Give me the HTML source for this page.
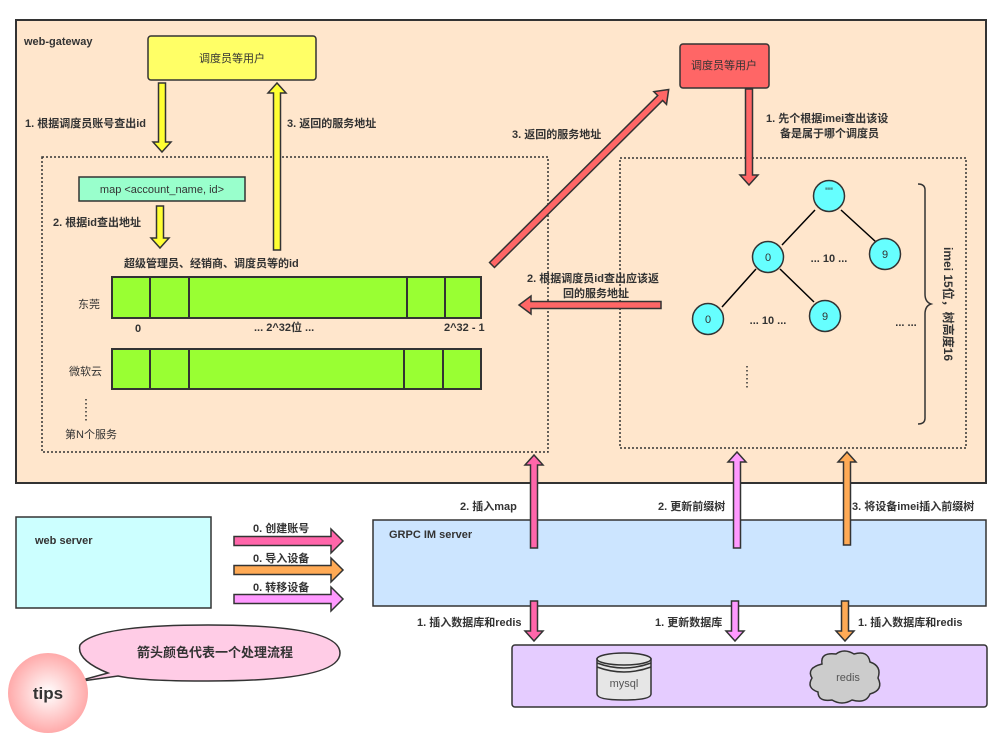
<!DOCTYPE html>
<html><head><meta charset="utf-8"><style>
body{margin:0;background:#fff}
svg{display:block;font-family:"Liberation Sans","Noto Sans CJK SC",sans-serif}
.t{font-size:11px;fill:#333;font-weight:bold}
.n{font-size:11px;fill:#333}
</style></head><body>
<svg width="1001" height="737" viewBox="0 0 1001 737" xmlns="http://www.w3.org/2000/svg">
<defs>
<radialGradient id="rg" cx="50%" cy="50%" r="50%"><stop offset="0" stop-color="#fff"/><stop offset="1" stop-color="#ffaaaa"/></radialGradient>
</defs>
<rect x="16" y="20" width="970" height="463" fill="#ffe6cc" stroke="#333" stroke-width="2"/>
<text x="24" y="45" class="t">web-gateway</text>
<rect x="148" y="36" width="168" height="44" rx="3" fill="#ffff66" stroke="#333" stroke-width="1.5"/>
<text x="232" y="62" class="n" text-anchor="middle">调度员等用户</text>
<rect x="42" y="157" width="506" height="295" fill="none" stroke="#333" stroke-dasharray="2,2" stroke-width="1.5"/>
<rect x="620" y="158" width="346" height="290" fill="none" stroke="#333" stroke-dasharray="2,2" stroke-width="1.5"/>
<g stroke="#333" stroke-width="1.5">
<polygon fill="#ffff33" points="158.5,83 165.5,83 165.5,142 171,142 162,152 153,142 158.5,142"/>
<polygon fill="#ffff33" points="273.5,250 280.5,250 280.5,93 286,93 277,83 268,93 273.5,93"/>
<polygon fill="#ffff33" points="156.5,206 163.5,206 163.5,238 169,238 160,248 151,238 156.5,238"/>
<polygon fill="#ff6666" points="745.5,89 752.5,89 752.5,175 758,175 749,185 740,175 745.5,175"/>
<polygon fill="#ff6666" points="661,301.5 661,308.5 531,308.5 531,314 519,305 531,296 531,301.5"/>
<polygon fill="#ff6666" transform="translate(492,265) rotate(-44.8)" points="0,-3.5 237,-3.5 237,-9 249,0 237,9 237,3.5 0,3.5"/>
</g>
<rect x="79" y="177" width="166" height="24" fill="#99ffcc" stroke="#333" stroke-width="1.5"/>
<text x="162" y="193" class="n" text-anchor="middle">map  &lt;account_name, id&gt;</text>
<text x="25" y="127" class="t">1. 根据调度员账号查出id</text>
<text x="287" y="127" class="t">3. 返回的服务地址</text>
<text x="53" y="226" class="t">2. 根据id查出地址</text>
<text x="512" y="138" class="t">3. 返回的服务地址</text>
<text x="124" y="267" class="t">超级管理员、经销商、调度员等的id</text>
<g fill="#99ff33" stroke="#333" stroke-width="2">
<rect x="112" y="277" width="369" height="41"/>
<rect x="112" y="349" width="369" height="40"/>
<path d="M150 277v41M189 277v41M407 277v41M445 277v41M150 349v40M189 349v40M404 349v40M443 349v40" fill="none"/>
</g>
<text x="78" y="308" class="n">东莞</text>
<text x="135" y="332" class="t">0</text>
<text x="254" y="331" class="t">... 2^32位 ...</text>
<text x="444" y="331" class="t">2^32 - 1</text>
<text x="69" y="375" class="n">微软云</text>
<path d="M86 399v22" stroke="#333" stroke-dasharray="1.5,2.5" stroke-width="1.5"/>
<text x="65" y="438" class="n">第N个服务</text>
<text x="527" y="282" class="t">2. 根据调度员id查出应该返</text>
<text x="563" y="297" class="t">回的服务地址</text>
<rect x="680" y="44" width="89" height="44" rx="3" fill="#ff6666" stroke="#333" stroke-width="1.5"/>
<text x="724" y="69" class="n" text-anchor="middle">调度员等用户</text>
<text x="766" y="122" class="t">1. 先个根据imei查出该设</text>
<text x="780" y="137" class="t">备是属于哪个调度员</text>
<g stroke="#000" stroke-width="1.5">
<path d="M815 210L782 245M841 210L876 242M756 269L722 307M780 269L814 302"/>
</g>
<g fill="#66ffff" stroke="#333" stroke-width="1.5">
<circle cx="829" cy="196" r="15.5"/>
<circle cx="768" cy="257" r="15.5"/>
<circle cx="885" cy="254" r="15.5"/>
<circle cx="708" cy="319" r="15.5"/>
<circle cx="825" cy="316" r="15.5"/>
</g>
<text x="829" y="195" class="n" text-anchor="middle">""</text>
<text x="768" y="261" class="n" text-anchor="middle">0</text>
<text x="885" y="258" class="n" text-anchor="middle">9</text>
<text x="708" y="323" class="n" text-anchor="middle">0</text>
<text x="825" y="320" class="n" text-anchor="middle">9</text>
<text x="829" y="262" class="t" text-anchor="middle">... 10 ...</text>
<text x="768" y="324" class="t" text-anchor="middle">... 10 ...</text>
<text x="906" y="326" class="t" text-anchor="middle">... ...</text>
<path d="M747 366v24" stroke="#333" stroke-dasharray="1.5,2.5" stroke-width="1.5"/>
<path d="M918 184q7 0 7 6v104q0 8 6 10q-6 2 -6 10v104q0 6 -7 6" fill="none" stroke="#333" stroke-width="1.5"/>
<text transform="translate(944,304) rotate(90)" class="t" text-anchor="middle" style="font-size:12px">imei 15位，树高度16</text>
<rect x="16" y="517" width="195" height="91" fill="#ccffff" stroke="#333" stroke-width="1.5"/>
<text x="35" y="544" class="t">web server</text>
<rect x="373" y="520" width="613" height="86" fill="#cce5ff" stroke="#333" stroke-width="1.5"/>
<text x="389" y="538" class="t">GRPC IM server</text>
<rect x="512" y="645" width="475" height="62" rx="3" fill="#e5ccff" stroke="#333" stroke-width="1.5"/>
<g stroke="#333" stroke-width="1.5">
<polygon fill="#ff66aa" points="530.5,548 537.5,548 537.5,465 543,465 534,455 525,465 530.5,465"/>
<polygon fill="#ff99ff" points="733.5,548 740.5,548 740.5,462 746,462 737,452 728,462 733.5,462"/>
<polygon fill="#ffaa55" points="843.5,545 850.5,545 850.5,462 856,462 847,452 838,462 843.5,462"/>
<polygon fill="#ff66aa" points="530.5,601 537.5,601 537.5,631 543,631 534,641 525,631 530.5,631"/>
<polygon fill="#ff99ff" points="731.5,601 738.5,601 738.5,631 744,631 735,641 726,631 731.5,631"/>
<polygon fill="#ffaa55" points="841.5,601 848.5,601 848.5,631 854,631 845,641 836,631 841.5,631"/>
<polygon fill="#ff66aa" points="234,536.5 331,536.5 331,529 343,541 331,553 331,545.5 234,545.5"/>
<polygon fill="#ffaa55" points="234,565.5 331,565.5 331,558 343,570 331,582 331,574.5 234,574.5"/>
<polygon fill="#ff99ff" points="234,594.5 331,594.5 331,587 343,599 331,611 331,603.5 234,603.5"/>
</g>
<text x="460" y="510" class="t">2. 插入map</text>
<text x="658" y="510" class="t">2. 更新前缀树</text>
<text x="852" y="510" class="t">3. 将设备imei插入前缀树</text>
<text x="417" y="626" class="t">1. 插入数据库和redis</text>
<text x="655" y="626" class="t">1. 更新数据库</text>
<text x="858" y="626" class="t">1. 插入数据库和redis</text>
<text x="253" y="532" class="t">0. 创建账号</text>
<text x="253" y="562" class="t">0. 导入设备</text>
<text x="253" y="591" class="t">0. 转移设备</text>
<g stroke="#333" stroke-width="1.5">
<path d="M597 659v35q0 6 27 6t27 -6v-35z" fill="#e6e6e6"/>
<ellipse cx="624" cy="659" rx="27" ry="6" fill="#e6e6e6"/>
<path d="M597 663q27 10 54 0M597 667q27 10 54 0" fill="none"/>
<path d="M822 664q-2 -12 14 -10q8 -6 18 0q14 -4 16 8q12 4 8 16q6 12 -8 16q-4 10 -18 6q-10 6 -20 0q-14 2 -14 -8q-12 -4 -6 -14q-6 -10 10 -14z" fill="#cccccc"/>
</g>
<text x="624" y="687" class="n" text-anchor="middle" style="fill:#555">mysql</text>
<text x="848" y="681" class="n" text-anchor="middle" style="fill:#555">redis</text>
<path d="M75 682L108 673Q76 660 80 645Q95 625 208 625Q340 625 340 653Q340 681 208 681Q140 681 118 676Z" fill="#ffcce6" stroke="#333" stroke-width="1.5"/>
<text x="215" y="657" class="t" text-anchor="middle" style="font-size:13px">箭头颜色代表一个处理流程</text>
<circle cx="48" cy="693" r="40" fill="url(#rg)"/>
<text x="48" y="699" class="t" text-anchor="middle" style="font-size:17px">tips</text>
</svg>
</body></html>
